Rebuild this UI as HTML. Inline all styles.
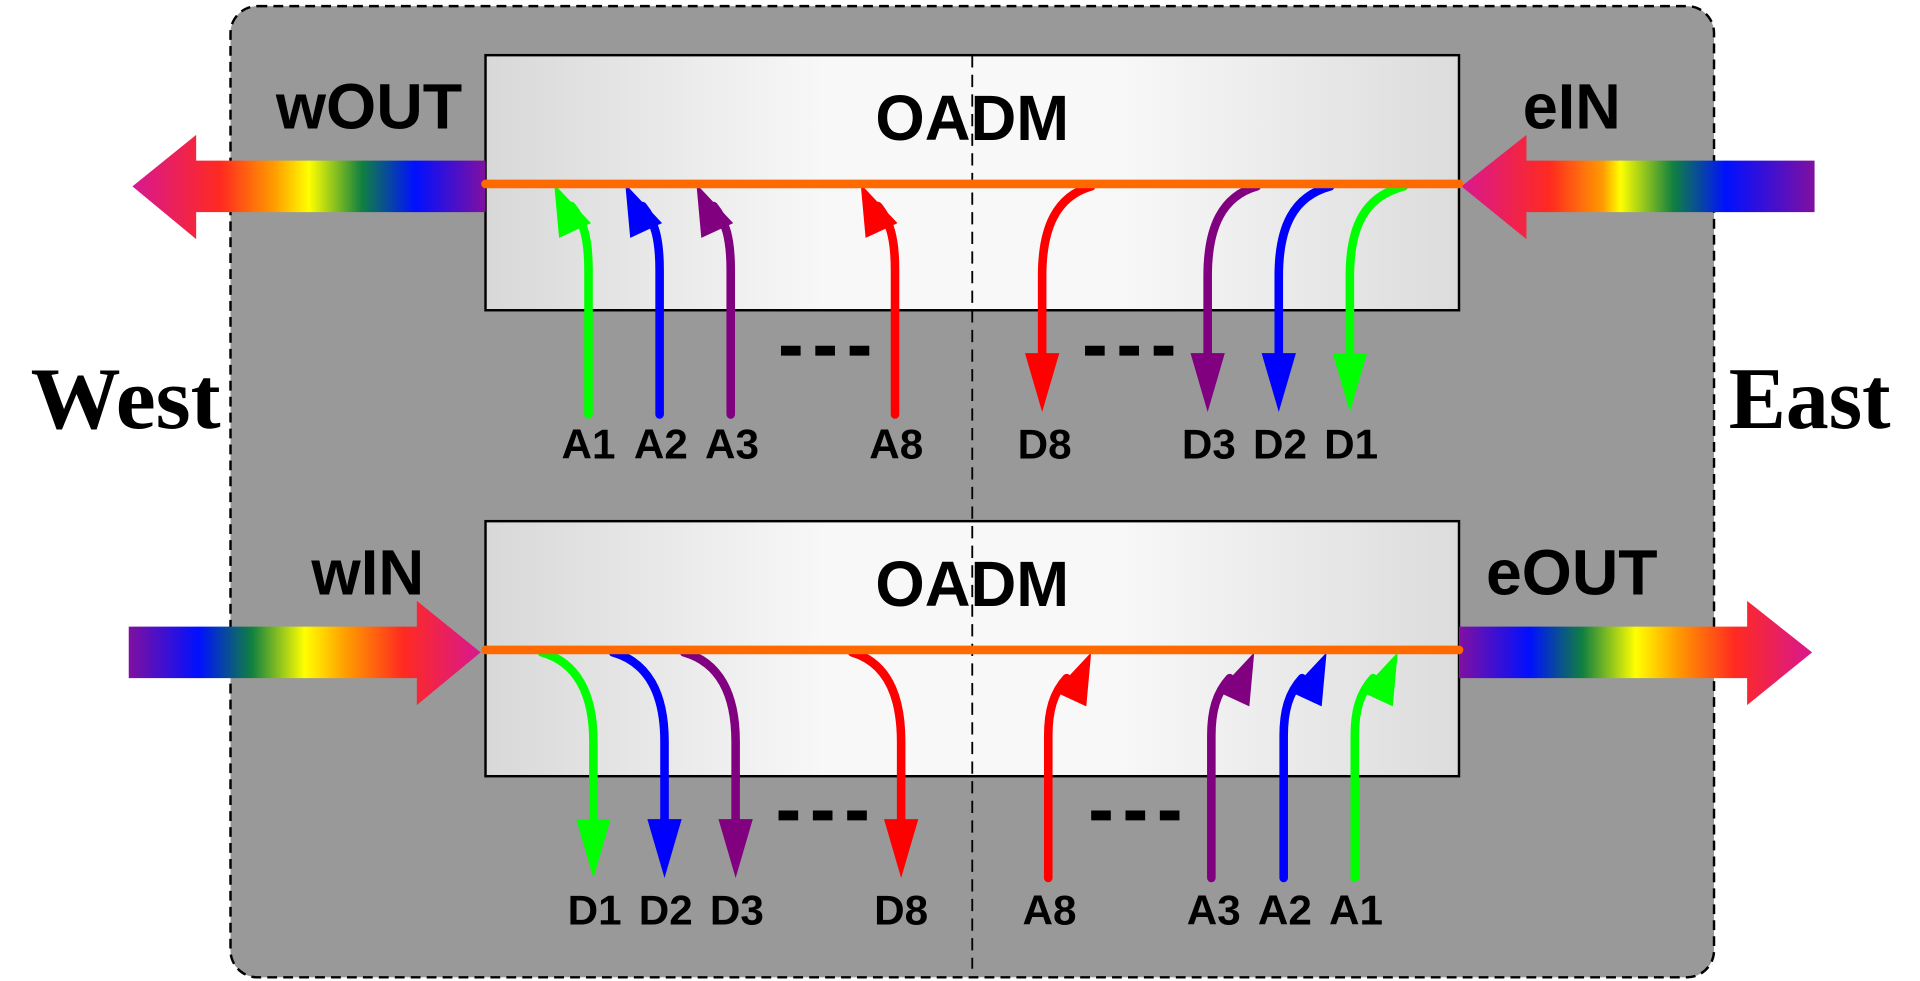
<!DOCTYPE html>
<html><head><meta charset="utf-8"><style>html,body{margin:0;padding:0;background:#fff;overflow:hidden}svg{display:block}</style></head>
<body>
<svg width="1920" height="981" viewBox="0 0 1566 800" preserveAspectRatio="none" xmlns="http://www.w3.org/2000/svg">
<defs>
<linearGradient id="box" x1="0" y1="0" x2="1" y2="0">
<stop offset="0" stop-color="#d8d8d8"/><stop offset="0.35" stop-color="#f8f8f8"/><stop offset="0.65" stop-color="#f8f8f8"/><stop offset="1" stop-color="#dcdcdc"/></linearGradient>
<linearGradient id="rbL" gradientUnits="userSpaceOnUse" x1="108" y1="0" x2="396" y2="0">
<stop offset="0" stop-color="#d81890"/><stop offset="0.25" stop-color="#ff2a20"/><stop offset="0.4" stop-color="#ff9a00"/><stop offset="0.5" stop-color="#ffff00"/><stop offset="0.65" stop-color="#108040"/><stop offset="0.8" stop-color="#0010ff"/><stop offset="1" stop-color="#8010a0"/></linearGradient>
<linearGradient id="rbR" gradientUnits="userSpaceOnUse" x1="1192" y1="0" x2="1480" y2="0">
<stop offset="0" stop-color="#d81890"/><stop offset="0.25" stop-color="#ff2a20"/><stop offset="0.4" stop-color="#ff9a00"/><stop offset="0.45" stop-color="#ffff00"/><stop offset="0.6" stop-color="#108040"/><stop offset="0.75" stop-color="#0010ff"/><stop offset="1" stop-color="#8010a0"/></linearGradient>
<linearGradient id="rbWI" gradientUnits="userSpaceOnUse" x1="105" y1="0" x2="392" y2="0">
<stop offset="0" stop-color="#8010a0"/><stop offset="0.2" stop-color="#0010ff"/><stop offset="0.35" stop-color="#108040"/><stop offset="0.5" stop-color="#ffff00"/><stop offset="0.62" stop-color="#ff9a00"/><stop offset="0.78" stop-color="#ff2a20"/><stop offset="1" stop-color="#d81890"/></linearGradient>
<linearGradient id="rbEO" gradientUnits="userSpaceOnUse" x1="1190" y1="0" x2="1478" y2="0">
<stop offset="0" stop-color="#8010a0"/><stop offset="0.2" stop-color="#0010ff"/><stop offset="0.35" stop-color="#108040"/><stop offset="0.5" stop-color="#ffff00"/><stop offset="0.62" stop-color="#ff9a00"/><stop offset="0.78" stop-color="#ff2a20"/><stop offset="1" stop-color="#d81890"/></linearGradient>
</defs>
<rect x="188" y="5" width="1210" height="792" rx="22" fill="#999999" stroke="#000" stroke-width="2" stroke-dasharray="8,5"/>
<rect x="396" y="45" width="794" height="208" fill="url(#box)" stroke="#000" stroke-width="2"/>
<rect x="396" y="425" width="794" height="208" fill="url(#box)" stroke="#000" stroke-width="2"/>
<line x1="793" y1="45" x2="793" y2="790" stroke="#000" stroke-width="1.5" stroke-dasharray="10,6"/>
<g font-family="'Liberation Sans Narrow','Liberation Sans',sans-serif" font-weight="bold" fill="#000" text-anchor="middle">
<text x="793" y="114" font-size="52" textLength="158" lengthAdjust="spacingAndGlyphs">OADM</text>
<text x="793" y="494" font-size="52" textLength="158" lengthAdjust="spacingAndGlyphs">OADM</text>
<text x="301" y="105" font-size="52" textLength="152" lengthAdjust="spacingAndGlyphs">wOUT</text>
<text x="1282" y="105" font-size="52" textLength="80" lengthAdjust="spacingAndGlyphs">eIN</text>
<text x="300" y="485" font-size="52" textLength="92" lengthAdjust="spacingAndGlyphs">wIN</text>
<text x="1282" y="485" font-size="52" textLength="140" lengthAdjust="spacingAndGlyphs">eOUT</text>
<g font-size="34">
<text x="480" y="374" textLength="44" lengthAdjust="spacingAndGlyphs">A1</text><text x="539" y="374" textLength="44" lengthAdjust="spacingAndGlyphs">A2</text><text x="597" y="374" textLength="44" lengthAdjust="spacingAndGlyphs">A3</text><text x="731" y="374" textLength="44" lengthAdjust="spacingAndGlyphs">A8</text>
<text x="852" y="374" textLength="44" lengthAdjust="spacingAndGlyphs">D8</text><text x="986" y="374" textLength="44" lengthAdjust="spacingAndGlyphs">D3</text><text x="1044" y="374" textLength="44" lengthAdjust="spacingAndGlyphs">D2</text><text x="1102" y="374" textLength="44" lengthAdjust="spacingAndGlyphs">D1</text>
<text x="485" y="754" textLength="44" lengthAdjust="spacingAndGlyphs">D1</text><text x="543" y="754" textLength="44" lengthAdjust="spacingAndGlyphs">D2</text><text x="601" y="754" textLength="44" lengthAdjust="spacingAndGlyphs">D3</text><text x="735" y="754" textLength="44" lengthAdjust="spacingAndGlyphs">D8</text>
<text x="856" y="754" textLength="44" lengthAdjust="spacingAndGlyphs">A8</text><text x="990" y="754" textLength="44" lengthAdjust="spacingAndGlyphs">A3</text><text x="1048" y="754" textLength="44" lengthAdjust="spacingAndGlyphs">A2</text><text x="1106" y="754" textLength="44" lengthAdjust="spacingAndGlyphs">A1</text>
</g>
</g>
<g font-family="'Liberation Serif',serif" font-weight="bold" font-size="72" fill="#000">
<text x="25" y="349" textLength="155" lengthAdjust="spacingAndGlyphs">West</text>
<text x="1410" y="349" textLength="132" lengthAdjust="spacingAndGlyphs">East</text>
</g>
<polygon points="396,131 160,131 160,110 108,152 160,195 160,173 396,173" fill="url(#rbL)"/>
<polygon points="1480,131 1245,131 1245,110 1192,152 1245,195 1245,173 1480,173" fill="url(#rbR)"/>
<polygon points="105,511 340,511 340,490 392,532 340,575 340,553 105,553" fill="url(#rbWI)"/>
<polygon points="1190,511 1425,511 1425,490 1478,532 1425,575 1425,553 1190,553" fill="url(#rbEO)"/>
<g fill="none" stroke-width="7" stroke-linecap="round">
<path d="M480 338 L480 220 C480 195 476 180 466 168" stroke="#00ff00"/>
<path d="M538 338 L538 220 C538 195 534 180 524 168" stroke="#0000ff"/>
<path d="M596 338 L596 220 C596 195 592 180 582 168" stroke="#800080"/>
<path d="M730 338 L730 220 C730 195 726 180 716 168" stroke="#ff0000"/>
<path d="M890 152 C862 160 850 185 850 225 L850 300" stroke="#ff0000"/>
<path d="M1025 152 C997 160 985 185 985 225 L985 300" stroke="#800080"/>
<path d="M1085 152 C1055 160 1043 185 1043 225 L1043 300" stroke="#0000ff"/>
<path d="M1145 152 C1113 160 1101 185 1101 225 L1101 300" stroke="#00ff00"/>
<path d="M442 532 C470 540 484 565 484 605 L484 680" stroke="#00ff00"/>
<path d="M500 532 C528 540 542 565 542 605 L542 680" stroke="#0000ff"/>
<path d="M558 532 C586 540 600 565 600 605 L600 680" stroke="#800080"/>
<path d="M695 532 C722 540 735 565 735 605 L735 680" stroke="#ff0000"/>
<path d="M855 716 L855 600 C855 580 859 565 870 553" stroke="#ff0000"/>
<path d="M988 716 L988 600 C988 580 992 565 1003 553" stroke="#800080"/>
<path d="M1047 716 L1047 600 C1047 580 1051 565 1062 553" stroke="#0000ff"/>
<path d="M1105 716 L1105 600 C1105 580 1109 565 1120 553" stroke="#00ff00"/>
</g>
<!-- arrowheads -->
<polygon points="452,150 482,182 456,194" fill="#00ff00"/>
<polygon points="510,150 540,182 514,194" fill="#0000ff"/>
<polygon points="568,150 598,182 572,194" fill="#800080"/>
<polygon points="702,150 732,182 706,194" fill="#ff0000"/>
<polygon points="850,336 836,288 864,288" fill="#ff0000"/>
<polygon points="985,336 971,288 999,288" fill="#800080"/>
<polygon points="1043,336 1029,288 1057,288" fill="#0000ff"/>
<polygon points="1101,336 1087,288 1115,288" fill="#00ff00"/>
<polygon points="484,716 470,668 498,668" fill="#00ff00"/>
<polygon points="542,716 528,668 556,668" fill="#0000ff"/>
<polygon points="600,716 586,668 614,668" fill="#800080"/>
<polygon points="735,716 721,668 749,668" fill="#ff0000"/>
<polygon points="890,532 886,576 860,564" fill="#ff0000"/>
<polygon points="1023,532 1019,576 993,564" fill="#800080"/>
<polygon points="1082,532 1078,576 1052,564" fill="#0000ff"/>
<polygon points="1140,532 1136,576 1110,564" fill="#00ff00"/>
<line x1="396" y1="150" x2="1190" y2="150" stroke="#ff6a00" stroke-width="7" stroke-linecap="round"/>
<line x1="396" y1="530" x2="1190" y2="530" stroke="#ff6a00" stroke-width="7" stroke-linecap="round"/>
<g stroke="#000" stroke-width="8" stroke-dasharray="16,12">
<line x1="637" y1="286" x2="712" y2="286"/>
<line x1="885" y1="286" x2="960" y2="286"/>
<line x1="635" y1="665" x2="710" y2="665"/>
<line x1="890" y1="665" x2="965" y2="665"/>
</g>
</svg>
</body></html>
